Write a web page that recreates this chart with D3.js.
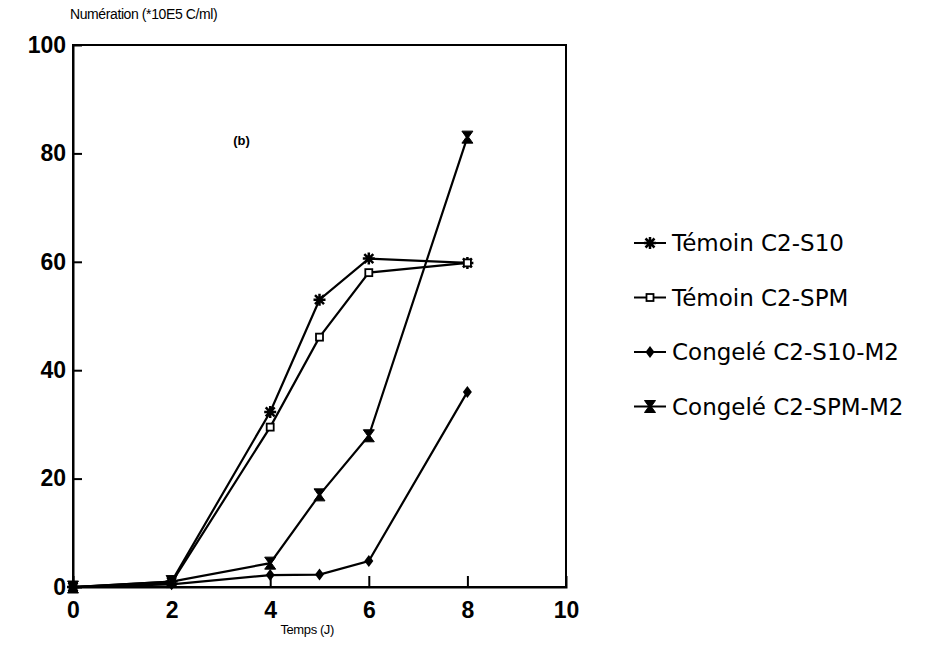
<!DOCTYPE html>
<html lang="fr">
<head>
    <meta charset="UTF-8">
    <title>Numération - Temps</title>
    <script src="https://d3js.org/d3.v7.min.js"></script>
    <style>
        body { margin: 0; background: #fff; font-family: "Liberation Sans", Arial, sans-serif; }
        .tick text { font-weight: bold; font-size: 23px; fill: #000; }
        .legend text { font-family: "DejaVu Sans", sans-serif; font-size: 23px; }
    </style>
</head>
<body>
    <div id="chart"></div>
    <script>
        const days = [0, 2, 4, 5, 6, 8];
        const temoinS10 = [0, 1, 32.3, 53, 60.6, 59.8];
        const temoinSPM = [0, 0.8, 29.5, 46.1, 58, 59.8];
        const congeleS10 = [0, 0.5, 2.2, 2.3, 4.8, 36];
        const congeleSPM = [0, 1, 4.4, 17, 27.9, 83];
        const seriesNames = ["Témoin C2-S10", "Témoin C2-SPM", "Congelé C2-S10-M2", "Congelé C2-SPM-M2"];
        const xTicks = [0, 2, 4, 6, 8, 10];
        const yTicks = [0, 20, 40, 60, 80, 100];

        const W = 939, H = 662;
        const margin = { top: 45, left: 73, right: 373, bottom: 75 };
        const width = W - margin.left - margin.right;
        const height = H - margin.top - margin.bottom;

        const svg = d3.select("#chart").append("svg")
            .attr("width", W).attr("height", H);
        const g = svg.append("g").attr("transform", `translate(${margin.left},${margin.top})`);

        const x = d3.scaleLinear().domain([0, 10]).range([0, width]);
        const y = d3.scaleLinear().domain([0, 100]).range([height, 0]);

        // frame
        g.append("rect").attr("width", width).attr("height", height)
            .attr("fill", "none").attr("stroke", "#000").attr("stroke-width", 2);

        const yAxis = g.append("g")
            .call(d3.axisLeft(y).tickValues(yTicks).tickSize(-9).tickPadding(7));
        const xAxis = g.append("g").attr("transform", `translate(0,${height})`)
            .call(d3.axisBottom(x).tickValues(xTicks).tickSize(-11).tickPadding(10));
        [yAxis, xAxis].forEach(a => {
            a.select(".domain").attr("stroke-width", 2);
            a.selectAll(".tick line").attr("stroke-width", 2)
                .filter(d => d === 0 || d === 100 || d === 10).remove();
        });
        xAxis.selectAll(".tick text").attr("dy", "0.9em");

        const symbols = [
            // asterisk
            (s) => s.append("path").attr("d", "M-6,0H6M0,-6V6M-4.5,-4.5L4.5,4.5M-4.5,4.5L4.5,-4.5")
                .attr("stroke", "#000").attr("stroke-width", 2.5).attr("fill", "none"),
            // open square
            (s) => s.append("rect").attr("x", -3.5).attr("y", -3.5).attr("width", 7).attr("height", 7)
                .attr("fill", "#fff").attr("stroke", "#000").attr("stroke-width", 1.8),
            // filled diamond
            (s) => s.append("path").attr("d", "M0,-6L4.5,0L0,6L-4.5,0Z").attr("fill", "#000"),
            // hourglass
            (s) => s.append("path").attr("d", "M-5.5,-6H5.5L1.2,0L5.5,6H-5.5L-1.2,0Z")
                .attr("fill", "#000").attr("stroke", "#000").attr("stroke-width", 1)
        ];

        const series = [temoinS10, temoinSPM, congeleS10, congeleSPM];
        const line = d3.line().x(d => x(d[0])).y(d => y(d[1]));

        series.forEach((vals, i) => {
            const pts = days.map((d, j) => [d, vals[j]]);
            g.append("path").datum(pts).attr("d", line)
                .attr("fill", "none").attr("stroke", "#000").attr("stroke-width", 2.2);
            pts.forEach(p => {
                const m = g.append("g").attr("transform", `translate(${x(p[0])},${y(p[1])})`);
                symbols[i](m);
            });
        });

        // labels
        svg.append("text").attr("x", 70).attr("y", 19)
            .style("font-family", "'Liberation Sans', sans-serif")
            .style("font-size", "14px").attr("letter-spacing", "-0.4")
            .text("Numération (*10E5 C/ml)");
        svg.append("text").attr("x", margin.left + x(4.75)).attr("y", 634).attr("text-anchor", "middle")
            .style("font-family", "'Liberation Sans', sans-serif")
            .style("font-size", "13px").attr("letter-spacing", "-0.4")
            .text("Temps (J)");
        g.append("text").attr("x", x(3.25)).attr("y", y(81.5))
            .style("font-size", "13px").style("font-weight", "bold").text("(b)");

        // legend
        const legend = svg.append("g").attr("class", "legend")
            .attr("transform", "translate(634,243)");
        seriesNames.forEach((name, i) => {
            const row = legend.append("g").attr("transform", `translate(0,${i * 54.5})`);
            row.append("line").attr("x1", 0).attr("x2", 32).attr("y1", 0).attr("y2", 0)
                .attr("stroke", "#000").attr("stroke-width", 2);
            const m = row.append("g").attr("transform", "translate(16,0)");
            symbols[i](m);
            row.append("text").attr("x", 38).attr("y", 0).attr("dy", "0.35em").text(name);
        });
    </script>
</body>
</html>
